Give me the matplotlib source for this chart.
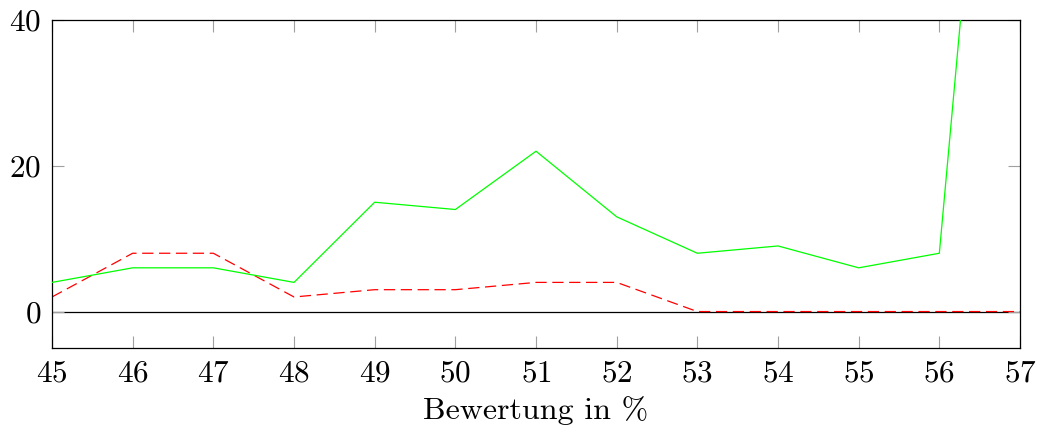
import matplotlib
matplotlib.use("Agg")
import matplotlib.pyplot as plt

plt.rcParams['font.family'] = 'cmr10'
plt.rcParams['mathtext.fontset'] = 'cm'
plt.rcParams['axes.formatter.use_mathtext'] = True

x = [45, 46, 47, 48, 49, 50, 51, 52, 53, 54, 55, 56, 57]
green = [4, 6, 6, 4, 15, 14, 22, 13, 8, 9, 6, 8, 130]
red = [2, 8, 8, 2, 3, 3, 4, 4, 0, 0, 0, 0, 0]
xticks = list(range(45, 58))
yticks = [0, 20, 40]
xlabel = "Bewertung in %"

fig = plt.figure(figsize=(10.43, 4.32), dpi=100)
ax = fig.add_axes([52/1043, 1 - 348/432, (1020-52)/1043, (348-20)/432])

ax.axhline(0, color='black', lw=0.9, zorder=1)
ax.plot(x, green, color='#00ff00', lw=0.9, zorder=3)
ax.plot(x, red, color='#ff0000', lw=0.9, dashes=(9, 4.5), zorder=2)

ax.set_xlim(45, 57)
ax.set_ylim(-5, 40)
ax.set_xticks(xticks)
ax.set_yticks(yticks)
ax.tick_params(direction='in', length=8.5, width=0.8, color='#a0a0a0',
               top=True, right=True, labelsize=22.5, pad=8)
for s in ax.spines.values():
    s.set_linewidth(0.9)
    s.set_color('black')
ax.set_xlabel(xlabel, fontsize=23, labelpad=6.5)

fig.savefig("out.png", dpi=100)
